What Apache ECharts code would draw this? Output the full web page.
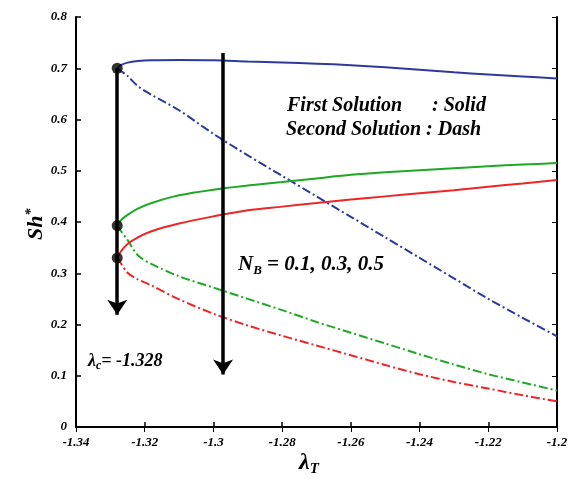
<!DOCTYPE html>
<html><head><meta charset="utf-8">
<script src="https://cdn.jsdelivr.net/npm/echarts@6/dist/echarts.min.js"></script>
<style>html,body{margin:0;padding:0;background:#fff}#c{width:573px;height:485px}</style>
</head><body><div id="c"></div>
<script>
const lambdaT = [-1.328,-1.327,-1.325,-1.322,-1.318,-1.31,-1.30,-1.29,-1.28,-1.27,-1.26,-1.25,-1.24,-1.23,-1.22,-1.21,-1.20];
const blueFirst  = [0.700,0.706,0.711,0.714,0.7155,0.716,0.7155,0.713,0.711,0.709,0.706,0.702,0.697,0.692,0.688,0.684,0.680];
const blueSecond = [0.700,0.695,0.685,0.665,0.648,0.618,0.572,0.530,0.490,0.450,0.410,0.370,0.330,0.290,0.250,0.213,0.177];
const greenFirst = [0.393,0.403,0.414,0.426,0.437,0.452,0.463,0.471,0.478,0.485,0.492,0.497,0.501,0.505,0.509,0.512,0.515];
const greenSecond= [0.393,0.383,0.365,0.335,0.318,0.294,0.272,0.250,0.228,0.205,0.184,0.163,0.142,0.122,0.103,0.087,0.071];
const redFirst   = [0.330,0.342,0.357,0.370,0.382,0.397,0.411,0.423,0.430,0.437,0.444,0.450,0.456,0.462,0.469,0.475,0.482];
const redSecond  = [0.330,0.320,0.301,0.288,0.276,0.249,0.221,0.198,0.178,0.159,0.140,0.121,0.103,0.088,0.075,0.062,0.050];
const critLambda = -1.328;
const critPoints = [0.700, 0.393, 0.330];
const arrows = [[[-1.328,0.700],[-1.328,0.219]],[[-1.2972,0.730],[-1.2972,0.1025]]];
const xTicks = {min:-1.34, max:-1.2, step:0.02};
const yTicks = {min:0, max:0.8, step:0.1};

const FONT = '"Liberation Serif","Times New Roman",serif';
const BLUE = '#2d3a9c', GREEN = '#1fa824', RED = '#ee2525';
const DASHDOT = [9,3,2,3];
const pair = arr => lambdaT.map((x,i)=>[x,arr[i]]);
const fmt = v => String(parseFloat(v.toFixed(2)));
const lbl = {fontFamily:FONT, fontWeight:'bold', fontStyle:'italic', fontSize:13, color:'#000'};

function lineSeries(arr,color,dash){
  return {type:'line', data:pair(arr), smooth:0.3, symbol:'none',
    lineStyle:{color:color, width:2, type: dash?DASHDOT:'solid'}, z:2};
}
const chart = echarts.init(document.getElementById('c'), null, {renderer:'canvas'});
chart.setOption({
  animation:false,
  grid:{left:76, right:16, top:17, bottom:58},
  xAxis:[
    {type:'value', min:xTicks.min, max:xTicks.max, interval:xTicks.step, position:'bottom',
     axisLine:{lineStyle:{color:'#000', width:2}}, axisTick:{inside:true, length:5, lineStyle:{color:'#000',width:1.5}},
     splitLine:{show:false}, axisLabel:Object.assign({margin:9, formatter:fmt}, lbl)},
    {type:'value', min:xTicks.min, max:xTicks.max, interval:xTicks.step, position:'top',
     axisLine:{show:true, lineStyle:{color:'#000', width:1.5}}, axisTick:{inside:true, length:5, lineStyle:{color:'#000'}},
     splitLine:{show:false}, axisLabel:{show:false}}
  ],
  yAxis:[
    {type:'value', min:yTicks.min, max:yTicks.max, interval:yTicks.step, position:'left',
     axisLine:{show:true, lineStyle:{color:'#000', width:2}}, axisTick:{show:true, inside:true, length:5, lineStyle:{color:'#000',width:1.5}},
     splitLine:{show:false}, axisLabel:Object.assign({margin:9, formatter:fmt}, lbl)},
    {type:'value', min:yTicks.min, max:yTicks.max, interval:yTicks.step, position:'right',
     axisLine:{show:true, lineStyle:{color:'#000', width:2}}, axisTick:{show:true, inside:true, length:5, lineStyle:{color:'#000'}},
     splitLine:{show:false}, axisLabel:{show:false}}
  ],
  series:[
    lineSeries(blueFirst,BLUE,false), lineSeries(blueSecond,BLUE,true),
    lineSeries(greenFirst,GREEN,false), lineSeries(greenSecond,GREEN,true),
    lineSeries(redFirst,RED,false), lineSeries(redSecond,RED,true),
    {type:'lines', coordinateSystem:'cartesian2d', z:5,
     symbol:['none','arrow'], symbolSize:15,
     lineStyle:{color:'#000', width:3.5, opacity:1},
     data:arrows.map(a=>({coords:a}))},
    {type:'scatter', data:critPoints.map(v=>[critLambda,v]), symbolSize:11, z:6,
     itemStyle:{color:'#000'}}
  ],
  graphic:[
    {type:'text', left:287, top:96, style:{text:'First Solution', font:'bold italic 20px '+FONT, fill:'#000'}},
    {type:'text', left:432, top:96, style:{text:': Solid', font:'bold italic 20px '+FONT, fill:'#000'}},
    {type:'text', left:286, top:120, style:{text:'Second Solution : Dash', font:'bold italic 20px '+FONT, fill:'#000'}},
    {type:'text', left:238, top:252, style:{text:'{a|N}{b|B}{a| = 0.1, 0.3, 0.5}', rich:{
      a:{fontFamily:FONT, fontWeight:'bold', fontStyle:'italic', fontSize:21, fill:'#000', lineHeight:24},
      b:{fontFamily:FONT, fontWeight:'bold', fontStyle:'italic', fontSize:13, fill:'#000', padding:[12,0,0,0], lineHeight:24}}}},
    {type:'text', left:88, top:350, style:{text:'{a|λ}{b|c}{a|= -1.328}', rich:{
      a:{fontFamily:FONT, fontWeight:'bold', fontStyle:'italic', fontSize:18, fill:'#000', lineHeight:22},
      b:{fontFamily:FONT, fontWeight:'bold', fontStyle:'italic', fontSize:12, fill:'#000', padding:[10,0,0,0], lineHeight:22}}}},
    {type:'text', left:299, top:449, style:{text:'{a|λ}{b|T}', rich:{
      a:{fontFamily:FONT, fontWeight:'bold', fontStyle:'italic', fontSize:24, fill:'#000', lineHeight:28},
      b:{fontFamily:FONT, fontWeight:'bold', fontStyle:'italic', fontSize:15, fill:'#000', padding:[13,0,0,0], lineHeight:28}}}},
    {type:'text', x:23, y:240, rotation:Math.PI/2, style:{text:'{a|Sh}{b|*}', rich:{
      a:{fontFamily:FONT, fontWeight:'bold', fontStyle:'italic', fontSize:22, fill:'#000', lineHeight:26},
      b:{fontFamily:FONT, fontWeight:'bold', fontStyle:'italic', fontSize:14, fill:'#000', padding:[0,0,10,0], lineHeight:26}}}}
  ]
});
</script></body></html>
